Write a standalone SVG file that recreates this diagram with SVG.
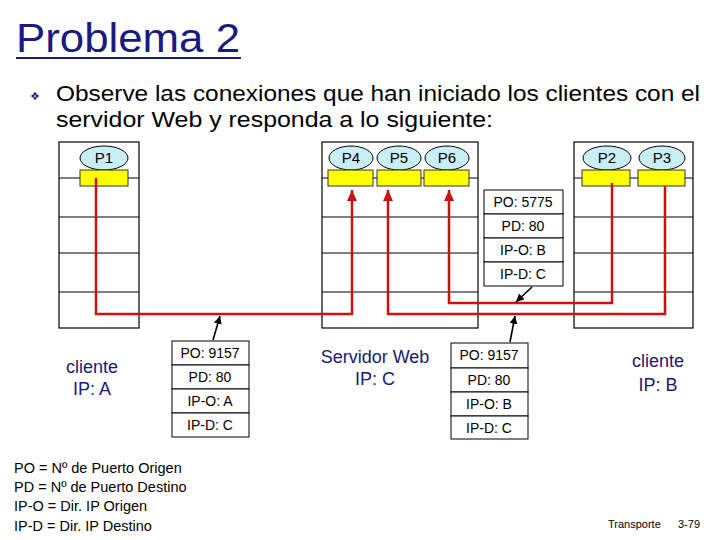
<svg xmlns="http://www.w3.org/2000/svg" width="720" height="540" viewBox="0 0 720 540">
<style>
.host{fill:#fff;stroke:#000;stroke-width:1.2}
.sep{stroke:#000;stroke-width:1.2}
.proc{fill:#c8eef6;stroke:#000;stroke-width:1}
.sock{fill:#ffff00;stroke:#333;stroke-width:1}
.plab{font-family:"Liberation Sans",Arial,sans-serif;font-size:15px;text-anchor:middle;fill:#000}
.conn{fill:none;stroke:#cc1111;stroke-width:2.5}
.ptr{stroke:#000;stroke-width:1.6;fill:none}
.cell{fill:#fff;stroke:#000;stroke-width:1}
.ctext{font-family:"Liberation Sans",Arial,sans-serif;font-size:14px;text-anchor:middle;fill:#000}
.blue{font-family:"Liberation Sans",Arial,sans-serif;font-size:18px;text-anchor:middle;fill:#1a1a70}
.leg{font-family:"Liberation Sans",Arial,sans-serif;font-size:14.5px;fill:#000}
</style>
<defs>
<marker id="ra" markerUnits="userSpaceOnUse" markerWidth="12" markerHeight="12" refX="11" refY="5" orient="auto">
<path d="M0,0 L11,5 L0,10 z" fill="#cc1111"/>
</marker>
<marker id="ba" markerUnits="userSpaceOnUse" markerWidth="10" markerHeight="10" refX="8" refY="4" orient="auto">
<path d="M0,0 L8,4 L0,8 z" fill="#000"/>
</marker>
</defs>
<rect width="720" height="540" fill="#fff"/>
<g id="title">
<text x="16" y="52" font-family="Liberation Sans,Arial,sans-serif" font-size="40" fill="#1a1a80" textLength="224" lengthAdjust="spacingAndGlyphs">Problema 2</text>
<line x1="16" y1="58" x2="241" y2="58" stroke="#1a1a80" stroke-width="2"/>
</g>
<g id="bullet">
<text x="30" y="100" font-family="DejaVu Sans,sans-serif" font-size="11" fill="#1a1a70">❖</text>
<text x="56" y="101" font-family="Liberation Sans,Arial,sans-serif" font-size="22" fill="#000" textLength="644" lengthAdjust="spacingAndGlyphs">Observe las conexiones que han iniciado los clientes con el</text>
<text x="56" y="127" font-family="Liberation Sans,Arial,sans-serif" font-size="22" fill="#000" textLength="437" lengthAdjust="spacingAndGlyphs">servidor Web y responda a lo siguiente:</text>
</g>
<g id="clienteA">
<rect class="host" x="59" y="142" width="80" height="186"/>
<line class="sep" x1="59" y1="178" x2="139" y2="178"/>
<line class="sep" x1="59" y1="217" x2="139" y2="217"/>
<line class="sep" x1="59" y1="253" x2="139" y2="253"/>
<line class="sep" x1="59" y1="292" x2="139" y2="292"/>
<ellipse class="proc" cx="104" cy="158" rx="24" ry="12"/>
<text class="plab" x="104" y="163">P1</text>
<rect class="sock" x="80" y="170" width="48" height="16"/>
<text class="blue" x="92" y="373">cliente</text>
<text class="blue" x="92" y="395">IP: A</text>
</g>
<g id="servidor">
<rect class="host" x="322" y="142" width="156" height="186"/>
<line class="sep" x1="322" y1="178" x2="478" y2="178"/>
<line class="sep" x1="322" y1="217" x2="478" y2="217"/>
<line class="sep" x1="322" y1="253" x2="478" y2="253"/>
<line class="sep" x1="322" y1="292" x2="478" y2="292"/>
<ellipse class="proc" cx="351" cy="158" rx="22" ry="12"/>
<ellipse class="proc" cx="399" cy="158" rx="22" ry="12"/>
<ellipse class="proc" cx="447" cy="158" rx="22" ry="12"/>
<text class="plab" x="351" y="163">P4</text>
<text class="plab" x="399" y="163">P5</text>
<text class="plab" x="447" y="163">P6</text>
<rect class="sock" x="328" y="170" width="45" height="16"/>
<rect class="sock" x="377" y="170" width="44" height="16"/>
<rect class="sock" x="424" y="170" width="45" height="16"/>
<text class="blue" x="375" y="363">Servidor Web</text>
<text class="blue" x="375" y="385">IP: C</text>
</g>
<g id="clienteB">
<rect class="host" x="574" y="142" width="119" height="186"/>
<line class="sep" x1="574" y1="178" x2="693" y2="178"/>
<line class="sep" x1="574" y1="217" x2="693" y2="217"/>
<line class="sep" x1="574" y1="253" x2="693" y2="253"/>
<line class="sep" x1="574" y1="292" x2="693" y2="292"/>
<ellipse class="proc" cx="607" cy="158" rx="24" ry="12"/>
<ellipse class="proc" cx="662" cy="158" rx="23" ry="12"/>
<text class="plab" x="607" y="163">P2</text>
<text class="plab" x="662" y="163">P3</text>
<rect class="sock" x="582" y="170" width="48" height="16"/>
<rect class="sock" x="638" y="170" width="47" height="16"/>
<text class="blue" x="658" y="367">cliente</text>
<text class="blue" x="658" y="391">IP: B</text>
</g>
<g id="connectors">
<path class="conn" d="M96,178 V314 H352 V190" marker-end="url(#ra)"/>
<path class="conn" d="M665,186 V314 H388 V190" marker-end="url(#ra)"/>
<path class="conn" d="M612,183 V303 H449 V190" marker-end="url(#ra)"/>
<line class="ptr" x1="213" y1="340" x2="220" y2="316" marker-end="url(#ba)"/>
<line class="ptr" x1="510" y1="342" x2="515" y2="316" marker-end="url(#ba)"/>
<line class="ptr" x1="532" y1="287" x2="516" y2="302" marker-end="url(#ba)"/>
</g>
<g id="segB1">
<rect class="cell" x="484" y="190" width="79" height="24"/>
<rect class="cell" x="484" y="214" width="79" height="24"/>
<rect class="cell" x="484" y="238" width="79" height="24"/>
<rect class="cell" x="484" y="262" width="79" height="24"/>
<text class="ctext" x="523" y="207">PO: 5775</text>
<text class="ctext" x="523" y="231">PD: 80</text>
<text class="ctext" x="523" y="255">IP-O: B</text>
<text class="ctext" x="523" y="279">IP-D: C</text>
</g>
<g id="segA">
<rect class="cell" x="172" y="341" width="77" height="24"/>
<rect class="cell" x="172" y="365" width="77" height="24"/>
<rect class="cell" x="172" y="389" width="77" height="24"/>
<rect class="cell" x="172" y="413" width="77" height="24"/>
<text class="ctext" x="210" y="358">PO: 9157</text>
<text class="ctext" x="210" y="382">PD: 80</text>
<text class="ctext" x="210" y="406">IP-O: A</text>
<text class="ctext" x="210" y="430">IP-D: C</text>
</g>
<g id="segB2">
<rect class="cell" x="451" y="343" width="77" height="25"/>
<rect class="cell" x="451" y="368" width="77" height="24"/>
<rect class="cell" x="451" y="392" width="77" height="24"/>
<rect class="cell" x="451" y="416" width="77" height="23"/>
<text class="ctext" x="489" y="360">PO: 9157</text>
<text class="ctext" x="489" y="385">PD: 80</text>
<text class="ctext" x="489" y="409">IP-O: B</text>
<text class="ctext" x="489" y="433">IP-D: C</text>
</g>
<g id="legend">
<text class="leg" x="14" y="473">PO = Nº de Puerto Origen</text>
<text class="leg" x="14" y="492">PD = Nº de Puerto Destino</text>
<text class="leg" x="14" y="511">IP-O = Dir. IP Origen</text>
<text class="leg" x="14" y="531">IP-D = Dir. IP Destino</text>
</g>
<g id="footer">
<text x="608" y="528" font-family="Liberation Sans,Arial,sans-serif" font-size="11" fill="#000">Transporte</text>
<text x="678" y="528" font-family="Liberation Sans,Arial,sans-serif" font-size="11" fill="#000">3-79</text>
</g>
</svg>
